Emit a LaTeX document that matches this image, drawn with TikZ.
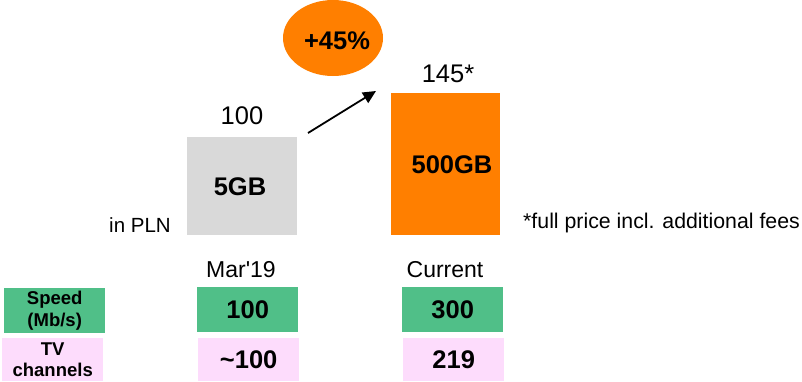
\documentclass[tikz,border=0pt]{standalone}
\usepackage{fontspec}
\setmainfont{Liberation Sans}
\newfontfamily\rawfont{Liberation Sans}[Ligatures=TeXOff]
\usetikzlibrary{arrows.meta,shapes.geometric}
\definecolor{gbox}{HTML}{D9D9D9}
\definecolor{obox}{HTML}{FF7F00}
\definecolor{grn}{HTML}{50BF88}
\definecolor{pnk}{HTML}{FDDCFC}
\tikzset{
  bar/.style={draw=none,inner sep=0pt,anchor=north west},
  cell/.style={draw=none,inner sep=0pt,anchor=north west,minimum width=101pt,font=\fontsize{25.5}{30}\selectfont\bfseries},
  lab/.style={inner sep=0pt,anchor=north west,minimum width=101pt,align=center,font=\fontsize{18.5}{21.5}\selectfont\bfseries},
  big/.style={inner sep=0pt,anchor=base,font=\fontsize{25.5}{30}\selectfont},
  bigb/.style={inner sep=0pt,anchor=base,font=\fontsize{25.5}{30}\selectfont\bfseries},
  mid/.style={inner sep=0pt,anchor=base,font=\fontsize{23}{27}\selectfont},
}
\begin{document}
\begin{tikzpicture}[x=1pt,y=-1pt]
\useasboundingbox (0,0) rectangle (802,381);
% bars
\node[bar,fill=gbox,minimum width=110pt,minimum height=98pt] (grey) at (187,137) {};
\node[bar,fill=obox,minimum width=109pt,minimum height=142pt] (orange) at (391,93) {};
\node[bigb] (t5) at (240,195) {5GB};
\node[bigb] (t500) at (452,173) {500GB};
\node[big] (v100) at (242,124) {100};
\node[big] (v145) at (448,82) {145*};
% ellipse
\node[ellipse,fill=obox,minimum width=100pt,minimum height=76pt,inner sep=0pt] (pct) at (333,38) {};
\node[bigb] (tpct) at (337,49) {+45\%};
% arrow
\coordinate (a1) at (308,133);
\coordinate (a2) at (376,91);
\draw[line width=1.8pt,-{Triangle[length=13pt,width=12pt]}] (a1) -- (a2);
% side texts
\node[inner sep=0pt,anchor=base,font=\fontsize{20.5}{24}\selectfont] (pln) at (140,232) {in PLN};
\node[inner sep=0pt,anchor=base west,font=\fontsize{21.3}{25}\selectfont] (note) at (523,228) {*full price incl. additional fees};
% column headers
\node[mid] (mar) at (241,277) {\rawfont Mar'19};
\node[mid] (cur) at (445,277) {Current};
% table
\node[lab,fill=grn,minimum height=45pt] (speed) at (4,288) {Speed\\(Mb/s)};
\node[lab,fill=pnk,minimum height=43pt] (tv) at (2,338) {TV\\channels};
\node[cell,fill=grn,minimum height=45pt] (s1) at (197,287) {100};
\node[cell,fill=grn,minimum height=45pt] (s2) at (402,287) {300};
\node[cell,fill=pnk,minimum height=43pt] (c1) at (198,338) {\textasciitilde100};
\node[cell,fill=pnk,minimum height=43pt] (c2) at (403,338) {219};
\end{tikzpicture}
\end{document}
